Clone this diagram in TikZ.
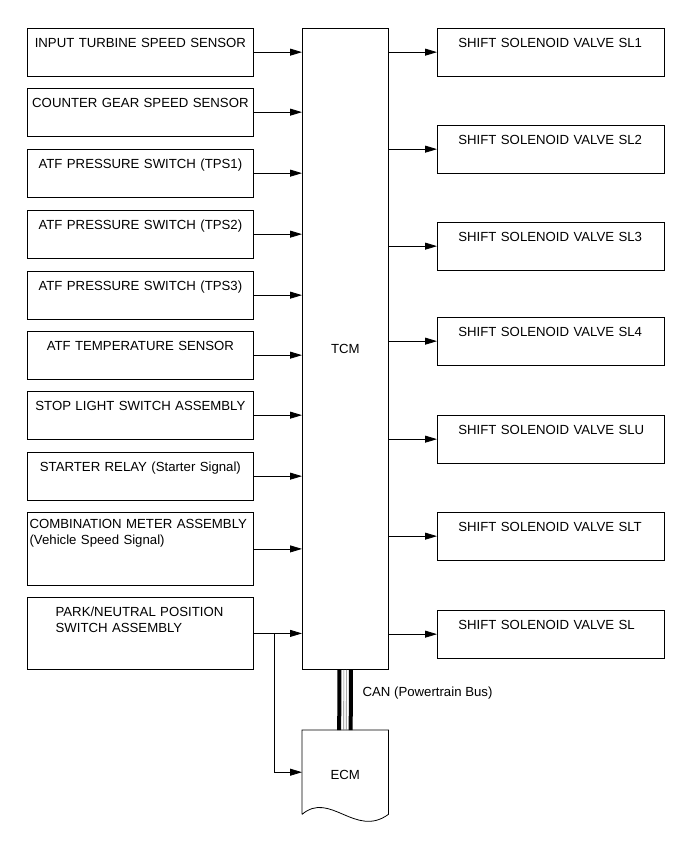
\documentclass[tikz,border=0pt]{standalone}
\usepackage{fontspec}
\setmainfont{Liberation Sans}
\usetikzlibrary{arrows.meta, positioning, calc}

\tikzset{
    sensorbox/.style={draw, line width=0.8pt, anchor=north west, inner xsep=0pt, inner ysep=0pt,
        text width=226.6pt, align=center, text height=19pt, text depth=28.5pt},
    valvebox/.style={sensorbox, text width=227pt, align=left},
    sig/.style={line width=0.8pt, -{Triangle[length=12pt,width=7pt]}},
}

\begin{document}
\begin{tikzpicture}[x=1pt, y=-1pt, font=\fontsize{13.2}{16.5}\selectfont]
    \useasboundingbox (0,0) rectangle (691,854);

    % Control module
    \node[draw, line width=0.8pt, anchor=north west, minimum width=86pt, minimum height=641pt, inner sep=0pt] (tcm) at (302,28) {TCM};

    % Input signals
    \foreach \n/\y/\t in {its/28/INPUT TURBINE SPEED SENSOR, cgs/88/COUNTER GEAR SPEED SENSOR,
        tpsa/149/ATF PRESSURE SWITCH (TPS1), tpsb/210/ATF PRESSURE SWITCH (TPS2),
        tpsc/271/ATF PRESSURE SWITCH (TPS3), atft/331/ATF TEMPERATURE SENSOR,
        stop/391/STOP LIGHT SWITCH ASSEMBLY, strt/452/STARTER RELAY (Starter Signal)} {
        \node[sensorbox] (\n) at (26.7,\y) {\t};
        \draw[sig] (\n.east) -- (\n.east -| tcm.west);
    }
    \node[sensorbox, align=left, inner xsep=2.5pt, text width=221.6pt, text height=16pt, text depth=57pt] (cmb) at (26.7,512)
        {COMBINATION METER ASSEMBLY\\(Vehicle Speed Signal)};
    \node[sensorbox, align=left, text depth=53pt] (pns) at (26.7,597)
        {\hspace*{28.5pt}PARK/NEUTRAL POSITION\\\hspace*{28.5pt}SWITCH ASSEMBLY};
    \draw[sig] (cmb.east) -- (cmb.east -| tcm.west);
    \draw[sig] (pns.east) -- (pns.east -| tcm.west);

    % Solenoid outputs
    \foreach \n/\y in {SL1/28, SL2/125, SL3/222, SL4/317, SLU/415, SLT/512, SL/610} {
        \node[valvebox] (\n) at (437,\y) {\hspace*{21pt}SHIFT SOLENOID VALVE \n};
        \draw[sig] (\n.west -| tcm.east) -- (\n.west);
    }

    % ECM
    \node[anchor=north west, minimum width=86pt, minimum height=84pt, inner sep=0pt, text height=15.5pt, text depth=0pt] (ecm) at (302,730) {ECM};
    \draw[line width=0.8pt] (ecm.south west) -- (ecm.north west) -- (ecm.north east) -- (ecm.south east)
        .. controls +(-33,24) and +(28,-24) .. (ecm.south west);
    \coordinate (split) at ($(pns.east)+(20,0)$);
    \draw[sig] (split) |- (ecm.west);

    % CAN bus
    \foreach \dx/\w/\c in {-6/4pt/black, -1.5/0.6pt/gray, 1/0.6pt/gray, 5.5/4pt/black}
        \draw[line width=\w, \c] ([xshift=\dx pt]tcm.south) -- ([xshift=\dx pt]ecm.north);
    \node[anchor=base west, inner sep=0pt] (can) at ($(tcm.south)+(17,27)$) {CAN (Powertrain Bus)};
\end{tikzpicture}
\end{document}
